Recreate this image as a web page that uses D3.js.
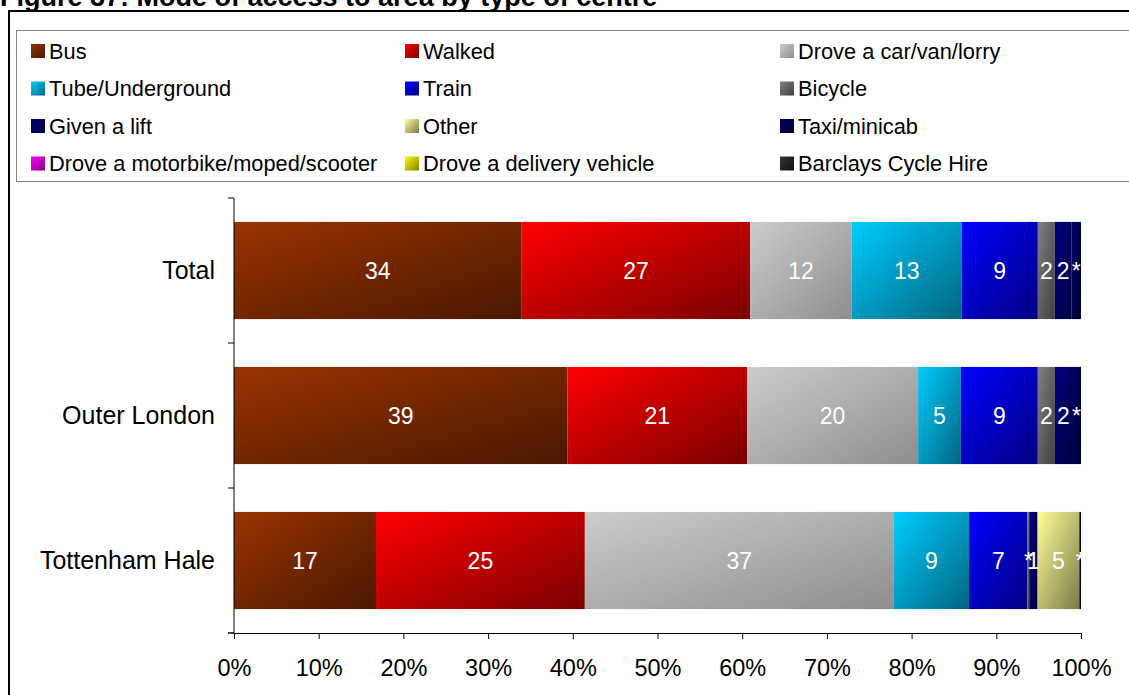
<!DOCTYPE html>
<html>
<head>
<meta charset="utf-8">
<script src="https://cdn.jsdelivr.net/npm/d3@7"></script>
<style>
  html, body { margin: 0; padding: 0; background: #fff; }
  svg { display: block; font-family: Arial, "Liberation Sans", sans-serif; }
</style>
</head>
<body>
<svg id="chart" width="1129" height="695"></svg>
<script>
// Mode of access to area, percent of respondents by type of centre
const categories = ["Total", "Outer London", "Tottenham Hale"];
const seriesNames = [
  "Bus", "Walked", "Drove a car/van/lorry",
  "Tube/Underground", "Train", "Bicycle",
  "Given a lift", "Other", "Taxi/minicab",
  "Drove a motorbike/moped/scooter", "Drove a delivery vehicle", "Barclays Cycle Hire"
];
const bus        = [34, 39, 17];
const walked     = [27, 21, 25];
const droveCar   = [12, 20, 37];
const tube       = [13, 5, 9];
const train      = [9, 9, 7];
const bicycle    = [2, 2, 0.2];
const givenLift  = [2, 2, 1];
const other      = [0, 0, 5];
const taxi       = [1.1, 1.05, 0.2];
const motorbike  = [0, 0, 0];
const delivery   = [0, 0, 0];
const cycleHire  = [0, 0, 0];
// "*" marks shares too small to show as a whole number
const starred = {
  "Bicycle": [false, false, true],
  "Taxi/minicab": [true, true, true]
};
const xTicks = [0, 0.1, 0.2, 0.3, 0.4, 0.5, 0.6, 0.7, 0.8, 0.9, 1];

const seriesValues = [bus, walked, droveCar, tube, train, bicycle,
  givenLift, other, taxi, motorbike, delivery, cycleHire];
const fillStart = ["#993300", "#ff0000", "#cccccc", "#00ccff", "#0000ff", "#808080",
  "#000080", "#ffff99", "#000066", "#ff00ff", "#ffff00", "#333333"];
const fillEnd = ["#4a1800", "#7a0000", "#8e8e8e", "#006680", "#000080", "#404040",
  "#000040", "#7a7a48", "#000033", "#800080", "#808000", "#111111"];

const rows = categories.map((c, i) => {
  const r = { category: c };
  seriesNames.forEach((s, j) => { r[s] = seriesValues[j][i]; });
  return r;
});

const svg = d3.select("#chart");

// gradients for bars and legend swatches
const defs = svg.append("defs");
seriesNames.forEach((s, j) => {
  const g = defs.append("linearGradient")
    .attr("id", "grad" + j)
    .attr("x1", 0).attr("y1", 0).attr("x2", 1).attr("y2", 1);
  g.append("stop").attr("offset", "0%").attr("stop-color", fillStart[j]);
  g.append("stop").attr("offset", "100%").attr("stop-color", fillEnd[j]);
});

// title and outer frame
svg.append("text")
  .attr("x", 0).attr("y", 6)
  .attr("font-size", 27).attr("font-weight", "bold")
  .text("Figure 37: Mode of access to area by type of centre");

svg.append("rect")
  .attr("x", 9).attr("y", 11).attr("width", 1140).attr("height", 700)
  .attr("fill", "none").attr("stroke", "#000").attr("stroke-width", 2);

// legend
svg.append("rect")
  .attr("x", 16.5).attr("y", 30.5).attr("width", 1130).attr("height", 151)
  .attr("fill", "#fff").attr("stroke", "#808080").attr("stroke-width", 1);

const legendCols = [31, 405, 780];
const legendRows = [51, 88.5, 126, 163.5];
const legend = svg.append("g").selectAll("g")
  .data(seriesNames)
  .join("g")
  .attr("transform", (d, i) => `translate(${legendCols[i % 3]},${legendRows[Math.floor(i / 3)]})`);
legend.append("rect")
  .attr("x", 0).attr("y", -7).attr("width", 14).attr("height", 14)
  .attr("fill", (d, i) => `url(#grad${i})`);
legend.append("text")
  .attr("x", 18).attr("y", 0).attr("dy", "0.35em")
  .attr("font-size", 21.8)
  .text(d => d);

// scales
const x = d3.scaleLinear().domain([0, 1]).range([234, 1081]);
const y = d3.scaleBand().domain(categories).range([198, 633])
  .paddingInner(0.33).paddingOuter(0.165);

const stack = d3.stack().keys(seriesNames).offset(d3.stackOffsetExpand);
const layers = stack(rows);

const barG = svg.append("g");
layers.forEach((layer, j) => {
  const g = barG.append("g");
  g.selectAll("rect")
    .data(layer)
    .join("rect")
    .attr("x", d => x(d[0]))
    .attr("y", d => y(d.data.category))
    .attr("width", d => Math.max(0, x(d[1]) - x(d[0])))
    .attr("height", y.bandwidth())
    .attr("fill", `url(#grad${j})`);
});

// value labels
layers.forEach((layer, j) => {
  const name = seriesNames[j];
  barG.append("g").selectAll("text")
    .data(layer.map((d, i) => ({ d, i })).filter(o => o.d.data[name] > 0))
    .join("text")
    .attr("x", o => (x(o.d[0]) + x(o.d[1])) / 2)
    .attr("y", o => y(o.d.data.category) + y.bandwidth() / 2)
    .attr("dy", "0.35em")
    .attr("text-anchor", "middle")
    .attr("font-size", 23)
    .attr("fill", "#fff")
    .text(o => (starred[name] && starred[name][o.i]) ? "*" : d3.format("d")(Math.round(o.d.data[name])));
});

// y axis: line with ticks at band boundaries
const yAxisG = svg.append("g");
yAxisG.append("line")
  .attr("x1", 234).attr("x2", 234).attr("y1", 198).attr("y2", 633)
  .attr("stroke", "#000").attr("stroke-width", 1);
const bounds = categories.map(c => y(c) - (y.step() - y.bandwidth()) / 2)
  .concat([y(categories[categories.length - 1]) + y.bandwidth() + (y.step() - y.bandwidth()) / 2]);
yAxisG.selectAll("line.tick")
  .data(bounds)
  .join("line")
  .attr("class", "tick")
  .attr("x1", 228).attr("x2", 234)
  .attr("y1", d => d).attr("y2", d => d)
  .attr("stroke", "#000");
yAxisG.selectAll("text")
  .data(categories)
  .join("text")
  .attr("x", 215)
  .attr("y", d => y(d) + y.bandwidth() / 2)
  .attr("dy", "0.35em")
  .attr("text-anchor", "end")
  .attr("font-size", 25)
  .text(d => d);

// x axis
const xAxis = d3.axisBottom(x).tickValues(xTicks).tickFormat(d3.format(".0%"))
  .tickSize(6).tickSizeOuter(0);
const xAxisG = svg.append("g").attr("transform", "translate(0,633)").call(xAxis);
xAxisG.select(".domain").attr("stroke", "#000");
xAxisG.selectAll(".tick line").attr("stroke", "#000");
xAxisG.selectAll(".tick text")
  .attr("font-size", 23.5).attr("font-family", "Arial, 'Liberation Sans', sans-serif")
  .attr("fill", "#000").attr("y", 35).attr("dy", "0.35em");
xAxisG.append("line")
  .attr("x1", 228).attr("x2", 234).attr("y1", 0).attr("y2", 0).attr("stroke", "#000");
</script>
</body>
</html>
